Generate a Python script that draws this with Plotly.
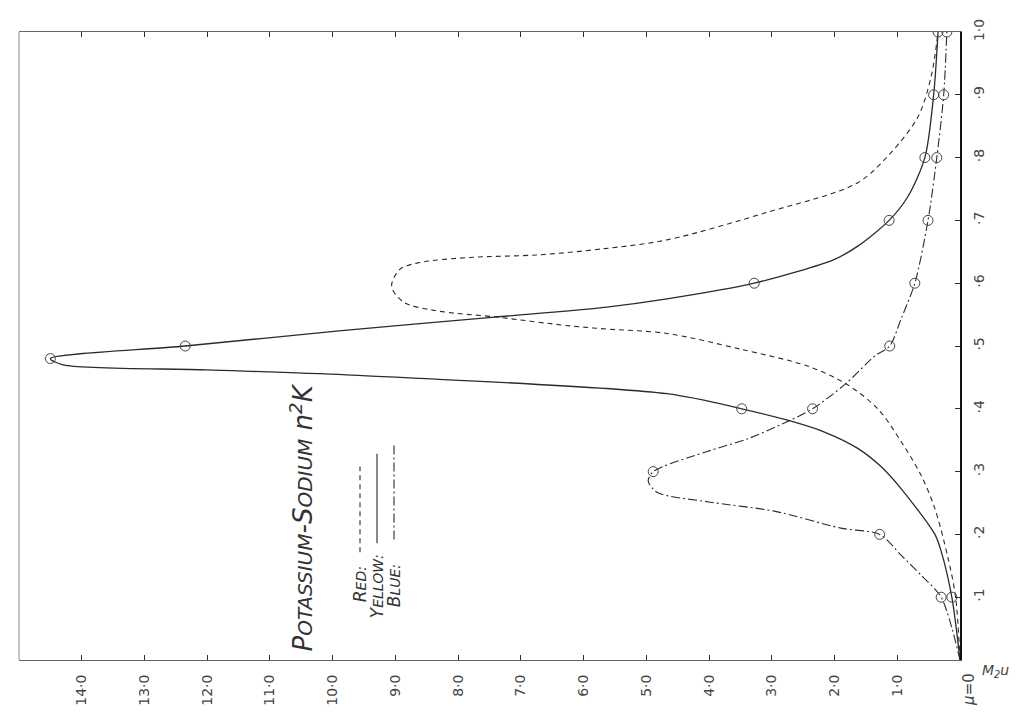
import plotly.graph_objects as go

# ---------------- data: n^2 K (value) against mu ----------------
red_val = [0, 0.07, 0.19, 0.40, 0.62, 0.94, 1.31, 1.82, 2.43, 3.50, 4.67, 5.63, 6.22, 7.38, 8.34, 8.87,
           9.06, 8.93, 8.61, 7.81, 6.74, 5.67, 4.67, 3.07, 1.63, 1.10, 0.67, 0.46, 0.35]
red_mu = [0, 0.10, 0.162, 0.241, 0.294, 0.348, 0.40, 0.44, 0.468, 0.495, 0.520, 0.527, 0.532, 0.546,
          0.556, 0.570, 0.595, 0.622, 0.633, 0.641, 0.645, 0.655, 0.669, 0.713, 0.760, 0.808, 0.865,
          0.929, 1.0]

yellow_val = [0, 0.13, 0.30, 0.40, 0.94, 1.26, 1.63, 2.16, 2.72, 3.48, 4.67, 9.78, 12.0, 14.3, 14.5,
              12.35, 9.90, 7.42, 5.63, 4.67, 3.28, 2.00, 1.63, 1.13, 0.83, 0.56, 0.42, 0.35]
yellow_mu = [0, 0.10, 0.173, 0.20, 0.273, 0.308, 0.337, 0.363, 0.381, 0.40, 0.424, 0.454, 0.462,
             0.470, 0.48, 0.50, 0.524, 0.546, 0.562, 0.575, 0.60, 0.638, 0.659, 0.70, 0.738, 0.80,
             0.90, 1.0]

blue_val = [0, 0.30, 0.62, 0.94, 1.28, 1.90, 2.96, 4.03, 4.83, 4.97, 4.89, 4.03, 3.39, 2.72, 2.35,
            1.82, 1.36, 1.12, 0.94, 0.72, 0.51, 0.37, 0.26, 0.21]
blue_mu = [0, 0.10, 0.135, 0.167, 0.20, 0.21, 0.237, 0.252, 0.267, 0.285, 0.30, 0.332, 0.352, 0.381,
           0.40, 0.44, 0.484, 0.50, 0.543, 0.60, 0.70, 0.80, 0.90, 1.0]

yellow_obs_mu = [0.1, 0.4, 0.48, 0.5, 0.6, 0.7, 0.8, 0.9, 1.0]
yellow_obs_val = [0.13, 3.48, 14.5, 12.35, 3.28, 1.13, 0.56, 0.42, 0.35]
blue_obs_mu = [0.1, 0.2, 0.3, 0.4, 0.5, 0.6, 0.7, 0.8, 0.9, 1.0]
blue_obs_val = [0.30, 1.28, 4.89, 2.35, 1.12, 0.72, 0.51, 0.37, 0.26, 0.21]

value_ticks = list(range(1, 15))
value_tick_text = [f"{v}·0" for v in value_ticks]
mu_ticks = [0.1, 0.2, 0.3, 0.4, 0.5, 0.6, 0.7, 0.8, 0.9, 1.0]
mu_tick_text = ["·1", "·2", "·3", "·4", "·5", "·6", "·7", "·8", "·9", "1·0"]

# ---------------- figure ----------------
W, H = 1026, 715
L, R, T, B = 11, 74, 22, 63
PW, PH = W - L - R, H - T - B
INK = "#2b2b2b"
FONT = "DejaVu Sans"


def px(x):
    return (x - L) / PW


def py(y):
    return (H - B - y) / PH


fig = go.Figure()
fig.add_trace(go.Scatter(x=red_val, y=red_mu, mode="lines", name="Red",
                         line=dict(color=INK, width=1.1, dash="5px,4px", shape="spline", smoothing=0.9)))
fig.add_trace(go.Scatter(x=yellow_val, y=yellow_mu, mode="lines", name="Yellow",
                         line=dict(color=INK, width=1.3, shape="spline", smoothing=0.8)))
fig.add_trace(go.Scatter(x=blue_val, y=blue_mu, mode="lines", name="Blue",
                         line=dict(color=INK, width=1.1, dash="9px,3px,2px,3px", shape="spline", smoothing=0.8)))
fig.add_trace(go.Scatter(x=yellow_obs_val, y=yellow_obs_mu, mode="markers", showlegend=False,
                         marker=dict(symbol="circle-open", size=10, color="#444", line=dict(width=1))))
fig.add_trace(go.Scatter(x=blue_obs_val, y=blue_obs_mu, mode="markers", showlegend=False,
                         marker=dict(symbol="circle-open", size=10, color="#444", line=dict(width=1))))

fig.update_layout(
    width=W, height=H, autosize=False,
    margin=dict(l=L, r=R, t=T, b=B, pad=0),
    paper_bgcolor="white", plot_bgcolor="white",
    showlegend=False,
    font=dict(family=FONT, color="#444"),
    xaxis=dict(range=[15.0, 0], tickvals=value_ticks, ticktext=value_tick_text,
               tickangle=-90, ticks="inside", ticklen=5, tickcolor=INK, tickwidth=1,
               showline=True, linecolor="#666", linewidth=1, mirror="ticks",
               showgrid=False, zeroline=False, ticklabelstandoff=8,
               tickfont=dict(size=14, color="#444", family=FONT)),
    yaxis=dict(range=[0, 1.0], side="right", tickvals=mu_ticks, ticktext=mu_tick_text,
               tickangle=-90, ticks="inside", ticklen=5, tickcolor=INK, tickwidth=1,
               showline=True, linecolor="#111", linewidth=1.6, mirror=False,
               showgrid=False, zeroline=False, ticklabelstandoff=5,
               tickfont=dict(size=14, color="#444", family=FONT)),
)

# faint left edge of the frame
fig.add_shape(type="line", xref="paper", yref="paper", x0=0, x1=0, y0=0, y1=1,
              line=dict(color="#888", width=1))

# title
fig.add_annotation(xref="paper", yref="paper", x=px(294), y=py(509), textangle=-90,
                   showarrow=False, xanchor="center", yanchor="middle",
                   text="<i>P<span style='font-size:20px'>OTASSIUM</span>-S<span style='font-size:20px'>ODIUM</span> "
                        "n<sup>2</sup>K</i>",
                   font=dict(size=26, color="#333", family=FONT))

# key
key = [("R", "ED:", 352, 576, 544, 458, "5px,4px"),
       ("Y", "ELLOW:", 369, 578, 535, 445, "solid"),
       ("B", "LUE:", 386, 578, 531, 434, "9px,3px,2px,3px")]
for first, rest, x, yc, y0, y1, dash in key:
    fig.add_annotation(xref="paper", yref="paper", x=px(x), y=py(yc), textangle=-90,
                       showarrow=False, xanchor="center", yanchor="middle",
                       text=f"<i>{first}<span style='font-size:14px'>{rest}</span></i>",
                       font=dict(size=17, color="#333", family=FONT))
    fig.add_shape(type="line", xref="paper", yref="paper", x0=px(x), x1=px(x), y0=py(y0), y1=py(y1),
                  line=dict(color=INK, width=1.1, dash=dash))

# corner labels
fig.add_annotation(xref="paper", yref="paper", x=px(961), y=py(682), textangle=-90,
                   showarrow=False, xanchor="center", yanchor="middle",
                   text="<i>μ</i>=0", font=dict(size=15, color="#444", family=FONT))
fig.add_annotation(xref="paper", yref="paper", x=px(987), y=py(663),
                   showarrow=False, xanchor="center", yanchor="middle",
                   text="<i>M<sub>2</sub>u</i>", font=dict(size=14, color="#444", family=FONT))

fig.write_html("out.html")
